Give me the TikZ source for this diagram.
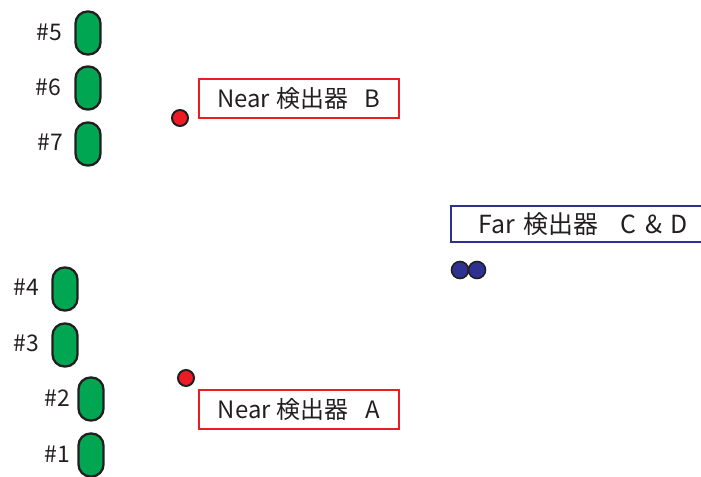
\documentclass[tikz,border=0pt]{standalone}
\usepackage{fontspec}
\setmainfont{Noto Sans CJK JP}
\definecolor{pillgreen}{HTML}{00A651}
\definecolor{dotred}{HTML}{ED1C24}
\definecolor{dotblue}{HTML}{2E3192}
\definecolor{ink}{HTML}{231F20}
\begin{document}
\begin{tikzpicture}[x=1bp,y=-1bp,
  pill/.style={draw=ink,fill=pillgreen,line width=2.3bp,minimum width=25bp,minimum height=43bp,rounded corners=12bp,inner sep=0pt},
  numlbl/.style={text=ink,font=\fontsize{23}{26}\selectfont,inner sep=0pt},
  reddot/.style={circle,draw=ink,fill=dotred,line width=2bp,minimum size=16bp,inner sep=0pt},
  bluedot/.style={circle,draw=ink,fill=dotblue,line width=1.6bp,minimum size=17bp,inner sep=0pt},
  nearbox/.style={draw=dotred,line width=2bp,minimum width=200bp,minimum height=39bp,inner sep=0pt,text=ink,font=\fontsize{24}{28}\selectfont},
  farbox/.style={draw=dotblue,line width=2bp,minimum width=265bp,minimum height=36bp,inner sep=0pt,text=ink,font=\fontsize{25}{28}\selectfont}]
\useasboundingbox (0,0) rectangle (701,477);
% pills
\node[pill] (p5) at (88,33) {};
\node[pill] (p6) at (88,88) {};
\node[pill] (p7) at (88,144) {};
\node[pill] (p4) at (65,289) {};
\node[pill] (p3) at (65,345) {};
\node[pill] (p2) at (91,399) {};
\node[pill] (p1) at (91,455) {};
% labels
\node[numlbl] (l5) at (49,32) {\#5};
\node[numlbl] (l6) at (48,87) {\#6};
\node[numlbl] (l7) at (50,142) {\#7};
\node[numlbl] (l4) at (26,287) {\#4};
\node[numlbl] (l3) at (26,343) {\#3};
\node[numlbl] (l2) at (57,398) {\#2};
\node[numlbl] (l1) at (57,454) {\#1};
% dots
\node[reddot] (rb) at (180,118) {};
\node[reddot] (ra) at (186,378) {};
\node[bluedot] (bc) at (460,270) {};
\node[bluedot] (bd) at (477,270) {};
% boxes
\node[nearbox] (nb) at (299,98.5) {Near\hspace{6bp}検出器\hspace{17bp}B};
\node[nearbox] (na) at (299,409) {Near\hspace{6bp}検出器\hspace{17bp}A};
\node[farbox] (fb) at (583.5,224) {Far\hspace{8bp}検出器\hspace{22bp}C\hspace{9bp}\&\hspace{9bp}D};
\end{tikzpicture}
\end{document}
